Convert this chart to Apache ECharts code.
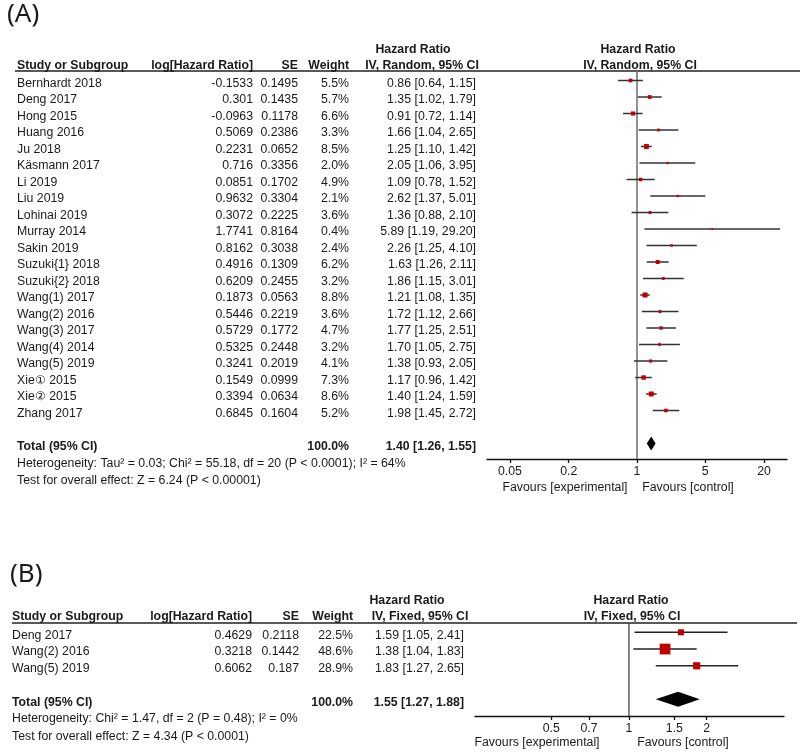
<!DOCTYPE html>
<html><head><meta charset="utf-8">
<script src="https://cdn.jsdelivr.net/npm/echarts@6/dist/echarts.min.js"></script>
<style>html,body{margin:0;padding:0;background:#fff}#c{width:800px;height:752px}</style>
</head><body><div id="c"></div>
<script>
// ---------- Panel A data ----------
const studiesA = ['Bernhardt 2018','Deng 2017','Hong 2015','Huang 2016','Ju 2018','Käsmann 2017','Li 2019','Liu 2019','Lohinai 2019','Murray 2014','Sakin 2019','Suzuki{1} 2018','Suzuki{2} 2018','Wang(1) 2017','Wang(2) 2016','Wang(3) 2017','Wang(4) 2014','Wang(5) 2019','Xie① 2015','Xie② 2015','Zhang 2017'];
const logHrA = ['-0.1533','0.301','-0.0963','0.5069','0.2231','0.716','0.0851','0.9632','0.3072','1.7741','0.8162','0.4916','0.6209','0.1873','0.5446','0.5729','0.5325','0.3241','0.1549','0.3394','0.6845'];
const seA = ['0.1495','0.1435','0.1178','0.2386','0.0652','0.3356','0.1702','0.3304','0.2225','0.8164','0.3038','0.1309','0.2455','0.0563','0.2219','0.1772','0.2448','0.2019','0.0999','0.0634','0.1604'];
const weightA = [5.5,5.7,6.6,3.3,8.5,2.0,4.9,2.1,3.6,0.4,2.4,6.2,3.2,8.8,3.6,4.7,3.2,4.1,7.3,8.6,5.2];
const hrA = [0.86,1.35,0.91,1.66,1.25,2.05,1.09,2.62,1.36,5.89,2.26,1.63,1.86,1.21,1.72,1.77,1.70,1.38,1.17,1.40,1.98];
const lowA = [0.64,1.02,0.72,1.04,1.10,1.06,0.78,1.37,0.88,1.19,1.25,1.26,1.15,1.08,1.12,1.25,1.05,0.93,0.96,1.24,1.45];
const highA = [1.15,1.79,1.14,2.65,1.42,3.95,1.52,5.01,2.10,29.20,4.10,2.11,3.01,1.35,2.66,2.51,2.75,2.05,1.42,1.59,2.72];
const totalA = {weight:100.0, hr:1.40, lo:1.26, hi:1.55};
const ticksA = [0.05, 0.2, 1, 5, 20];
const hetA = 'Heterogeneity: Tau² = 0.03; Chi² = 55.18, df = 20 (P < 0.0001); I² = 64%';
const testA = 'Test for overall effect: Z = 6.24 (P < 0.00001)';

// ---------- Panel B data ----------
const studiesB = ['Deng 2017','Wang(2) 2016','Wang(5) 2019'];
const logHrB = ['0.4629','0.3218','0.6062'];
const seB = ['0.2118','0.1442','0.187'];
const weightB = [22.5,48.6,28.9];
const hrB = [1.59,1.38,1.83];
const lowB = [1.05,1.04,1.27];
const highB = [2.41,1.83,2.65];
const totalB = {weight:100.0, hr:1.55, lo:1.27, hi:1.88};
const ticksB = [0.5, 0.7, 1, 1.5, 2];
const hetB = 'Heterogeneity: Chi² = 1.47, df = 2 (P = 0.48); I² = 0%';
const testB = 'Test for overall effect: Z = 4.34 (P < 0.0001)';

const FONT = '"Liberation Sans", Arial, Helvetica, sans-serif';
const FS = 12.3;
const TXT = '#1a1a1a';

function T(x, y, text, align, bold, fs, family) {
  return {type:'text', x:x, y:y, silent:true, z:10,
    style:{text:text, fontSize:fs||FS, fontFamily:family||FONT, fontWeight:bold?'bold':'normal',
      fill:TXT, align:align, textAlign:align, verticalAlign:'middle', textVerticalAlign:'middle'}};
}
function hrText(h,l,u){ return h.toFixed(2)+' ['+l.toFixed(2)+', '+u.toFixed(2)+']'; }

function tableSeries(ax, cfg) {
  const n = cfg.names.length;
  const data = cfg.names.map((_, i) => [1, i]).concat([[1, cfg.totalRow]]);
  return {type:'custom', xAxisIndex:ax, yAxisIndex:ax, silent:true, clip:false, z:5,
    data:data, encode:{x:0, y:1},
    renderItem:function(params, api){
      const i = params.dataIndex;
      const y = api.coord([1, api.value(1)])[1] + 3;
      const c = cfg.cols;
      if (i < n) return {type:'group', children:[
        T(c.name, y, cfg.names[i], 'left'),
        T(c.log, y, cfg.logs[i], 'right'),
        T(c.se, y, cfg.ses[i], 'right'),
        T(c.w, y, cfg.weights[i].toFixed(1)+'%', 'right'),
        T(c.hr, y, hrText(cfg.hrs[i], cfg.lows[i], cfg.highs[i]), 'right')
      ]};
      const t = cfg.total;
      return {type:'group', children:[
        T(c.name, y, 'Total (95% CI)', 'left', true),
        T(c.w, y, t.weight.toFixed(1)+'%', 'right', true),
        T(c.hr, y, hrText(t.hr, t.lo, t.hi), 'right', true)
      ]};
    }};
}

function forestSeries(ax, hrs, lows, highs, weights, boxFn, lineColor) {
  return {type:'custom', xAxisIndex:ax, yAxisIndex:ax, silent:true, clip:false, z:4,
    data: hrs.map((h,i)=>[h, lows[i], highs[i], i, weights[i]]),
    encode:{x:[0,1,2], y:3},
    renderItem:function(params, api){
      const r = api.value(3);
      const p = api.coord([api.value(0), r]), l = api.coord([api.value(1), r]), u = api.coord([api.value(2), r]);
      const s = boxFn(api.value(4));
      return {type:'group', children:[
        {type:'line', shape:{x1:l[0],y1:l[1],x2:u[0],y2:u[1]}, style:{stroke:lineColor, lineWidth:1.5}},
        {type:'rect', shape:{x:p[0]-s/2,y:p[1]-s/2,width:s,height:s}, style:{fill:'#c00000'}}
      ]};
    }};
}

function diamondSeries(ax, t, row, halfH) {
  return {type:'custom', xAxisIndex:ax, yAxisIndex:ax, silent:true, clip:false, z:4,
    data:[[t.hr, t.lo, t.hi, row]], encode:{x:[0,1,2], y:3},
    renderItem:function(params, api){
      const r = api.value(3);
      const p = api.coord([api.value(0), r]), l = api.coord([api.value(1), r]), u = api.coord([api.value(2), r]);
      return {type:'polygon', shape:{points:[[l[0],p[1]],[p[0],p[1]-halfH],[u[0],p[1]],[p[0],p[1]+halfH]]}, style:{fill:'#000'}};
    }};
}

function nullLine(ax, color, w) {
  return {type:'custom', xAxisIndex:ax, yAxisIndex:ax, silent:true, z:2,
    data:[[1, 0]], encode:{x:0, y:1},
    renderItem:function(params, api){
      const cs = params.coordSys;
      const x = api.coord([api.value(0), 0])[0];
      return {type:'line', shape:{x1:x, y1:cs.y, x2:x, y2:cs.y+cs.height}, style:{stroke:color, lineWidth:w}};
    }};
}

function xAxisCfg(ax, min, max, ticks) {
  return {type:'log', gridIndex:ax, logBase:10, min:min, max:max, position:'bottom',
    axisLine:{show:true, onZero:false, lineStyle:{color:'#111', width:1.3}},
    axisTick:{show:true, customValues:ticks, length:4, lineStyle:{color:'#111', width:1.3}},
    axisLabel:{show:true, customValues:ticks, margin:7, fontSize:FS, fontFamily:FONT, color:TXT,
      formatter:function(v){ return String(+(+v).toPrecision(6)); }},
    splitLine:{show:false}, minorTick:{show:false}, minorSplitLine:{show:false}};
}

const colsA = {name:17, log:253, se:298, w:349, hr:476};
const colsB = {name:12, log:252, se:299, w:353, hr:464};

const graphics = [
  T(7, 15, '(A)', 'left', false, 26, '"Noto Sans", "DejaVu Sans", sans-serif'),
  T(413, 50, 'Hazard Ratio', 'center', true),
  T(638, 50, 'Hazard Ratio', 'center', true),
  T(17, 66, 'Study or Subgroup', 'left', true),
  T(253, 66, 'log[Hazard Ratio]', 'right', true),
  T(298, 66, 'SE', 'right', true),
  T(349, 66, 'Weight', 'right', true),
  T(422, 66, 'IV, Random, 95% CI', 'center', true),
  T(640, 66, 'IV, Random, 95% CI', 'center', true),
  {type:'line', silent:true, shape:{x1:15, y1:71, x2:800, y2:71}, style:{stroke:'#222', lineWidth:1.5}},
  T(17, 464, hetA, 'left'),
  T(17, 481, testA, 'left'),
  T(565, 488, 'Favours [experimental]', 'center'),
  T(688, 488, 'Favours [control]', 'center'),

  T(10, 575, '(B)', 'left', false, 26, '"Noto Sans", "DejaVu Sans", sans-serif'),
  T(407, 601, 'Hazard Ratio', 'center', true),
  T(631, 601, 'Hazard Ratio', 'center', true),
  T(12, 617, 'Study or Subgroup', 'left', true),
  T(252, 617, 'log[Hazard Ratio]', 'right', true),
  T(299, 617, 'SE', 'right', true),
  T(353, 617, 'Weight', 'right', true),
  T(420, 617, 'IV, Fixed, 95% CI', 'center', true),
  T(632, 617, 'IV, Fixed, 95% CI', 'center', true),
  {type:'line', silent:true, shape:{x1:12, y1:623, x2:797, y2:623}, style:{stroke:'#222', lineWidth:1.5}},
  T(12, 719, hetB, 'left'),
  T(12, 737, testB, 'left'),
  T(537, 743, 'Favours [experimental]', 'center'),
  T(683, 743, 'Favours [control]', 'center')
];

const option = {
  animation:false,
  backgroundColor:'#fff',
  grid:[
    {left:487, right:13, top:71, bottom:293, containLabel:false},
    {left:475, right:16, top:623, bottom:36, containLabel:false}
  ],
  xAxis:[ xAxisCfg(0, 0.0291, 34.4, ticksA), xAxisCfg(1, 0.253, 3.99, ticksB) ],
  yAxis:[
    {type:'value', gridIndex:0, min:-0.5758, max:22.939, inverse:true, show:false},
    {type:'value', gridIndex:1, min:-0.555, max:4.997, inverse:true, show:false}
  ],
  graphic:{elements:graphics},
  series:[
    nullLine(0, '#6e6e6e', 1.5),
    forestSeries(0, hrA, lowA, highA, weightA, w => Math.max(1.8, 1.5 + 0.4*w), '#333'),
    diamondSeries(0, totalA, 22, 7),
    tableSeries(0, {names:studiesA, logs:logHrA, ses:seA, weights:weightA, hrs:hrA, lows:lowA, highs:highA, total:totalA, totalRow:22, cols:colsA}),
    nullLine(1, '#333', 1.2),
    forestSeries(1, hrB, lowB, highB, weightB, w => 2 + 0.18*w, '#222'),
    diamondSeries(1, totalB, 4, 7.5),
    tableSeries(1, {names:studiesB, logs:logHrB, ses:seB, weights:weightB, hrs:hrB, lows:lowB, highs:highB, total:totalB, totalRow:4, cols:colsB})
  ]
};
const chart = echarts.init(document.getElementById('c'), null, {renderer:'canvas'});
chart.setOption(option);
</script></body></html>
